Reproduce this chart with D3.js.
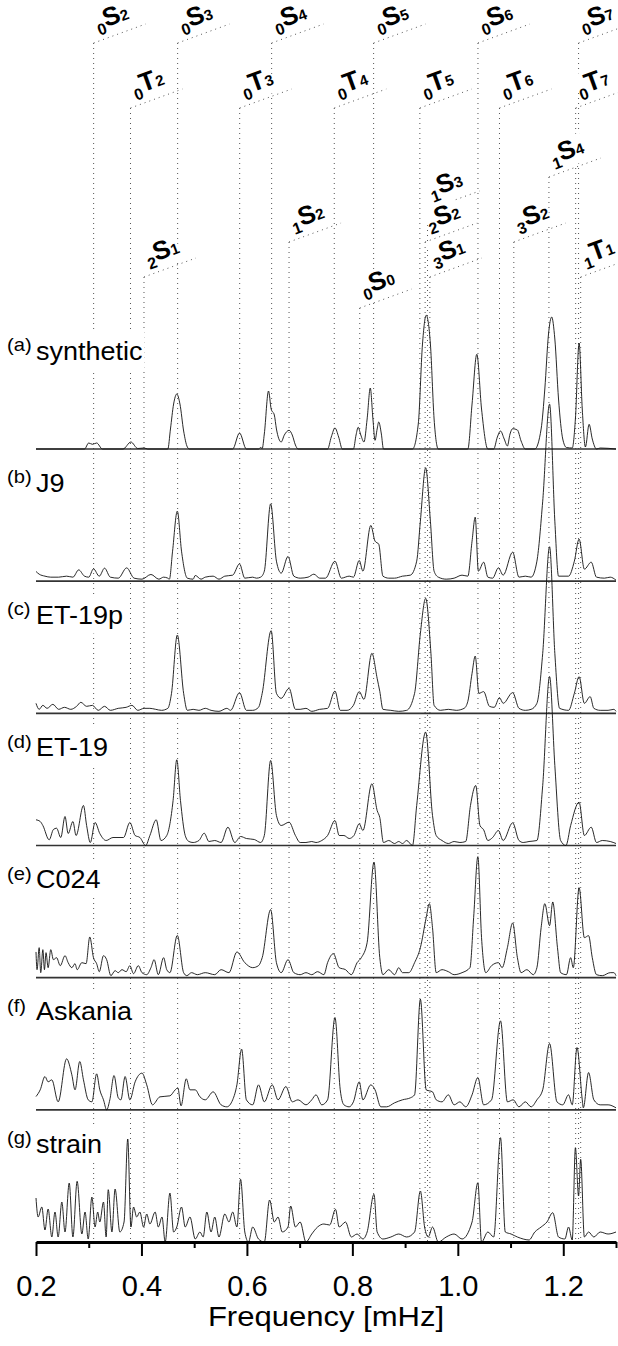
<!DOCTYPE html>
<html>
<head>
<meta charset="utf-8">
<script src="https://cdn.jsdelivr.net/npm/d3@7"></script>
<style>
  html, body { margin: 0; padding: 0; background: #fff; }
  svg { display: block; font-family: "Liberation Sans", Arial, Helvetica, sans-serif; }
</style>
</head>
<body>
<svg id="chart" width="618" height="1346"></svg>
<script>
// Panels, top to bottom
const panelTags = ["a", "b", "c", "d", "e", "f", "g"];
const panelNames = ["synthetic", "J9", "ET-19p", "ET-19", "C024", "Askania", "strain"];

// Normal modes: name (prefix n, letter, suffix l) and frequency in mHz
const modeNames = ["0S2", "0S3", "0S4", "0S5", "0S6", "0S7",
                   "0T2", "0T3", "0T4", "0T5", "0T6", "0T7",
                   "1S4", "1S3", "2S2", "1S2", "3S2", "2S1", "3S1", "1T1", "0S0"];
const modeFreqs = [0.3093, 0.4686, 0.6469, 0.8403, 1.0382, 1.2290,
                   0.3792, 0.5863, 0.7657, 0.9280, 1.0790, 1.2235,
                   1.1728, 0.9425, 0.9380, 0.6799, 1.1062, 0.4048, 0.9470, 1.2330, 0.8140];

// Amplitude spectra [frequency mHz, relative amplitude]
const synthetic = [[0.200,0],[0.292,0],[0.300,6],[0.307,4.7],[0.315,6],[0.326,0],[0.365,0],[0.380,7],[0.393,0.5],[0.405,1],[0.412,0],
  [0.450,0],[0.455,20],[0.461,45],[0.467,55],[0.473,45],[0.480,18],[0.487,2],[0.491,0],[0.573,0],[0.586,16],[0.599,0],
  [0.622,0],[0.626,1.5],[0.629,0.5],[0.633,15],[0.641,58],[0.646,40],[0.652,34],[0.656,20],[0.665,7],[0.671,14],[0.680,18.7],[0.686,14],[0.692,4],[0.697,0],
  [0.753,0],[0.760,12],[0.767,21],[0.774,12],[0.781,0],[0.802,0],[0.807,14],[0.811,21.7],[0.816,14],[0.822,7],[0.828,30],[0.834,61],[0.839,30],[0.843,8.7],[0.847,20],[0.850,27],[0.855,15],[0.859,0],
  [0.914,0],[0.925,25],[0.933,105],[0.940,133.7],[0.948,105],[0.955,30],[0.963,0],[1.019,0],[1.027,45],[1.036,94.7],[1.045,40],[1.057,0],
  [1.068,0],[1.075,12],[1.081,18],[1.088,10],[1.094,3],[1.099,15],[1.104,20.3],[1.113,19],[1.120,8],[1.128,0],
  [1.146,0],[1.158,20],[1.165,60],[1.172,115],[1.178,132],[1.184,110],[1.191,50],[1.199,10],[1.206,1.5],[1.217,1],[1.223,30],[1.230,106],[1.236,40],[1.242,2],[1.249,24.7],[1.255,10],[1.263,0],[1.270,1],[1.300,0]];

const j9 = [[0.200,9.7],[0.206,7],[0.217,5],[0.228,4],[0.243,4],[0.258,5],[0.270,4],[0.281,11.3],[0.292,5],[0.300,4],[0.309,12.3],[0.320,5],[0.330,13],[0.341,4],[0.356,3],[0.372,13.3],[0.386,3],[0.401,2],[0.418,6.7],[0.433,2],[0.442,4],[0.450,3],[0.453,2],
  [0.459,30],[0.468,70],[0.476,30],[0.487,3],[0.498,2],[0.502,5.7],[0.513,2],[0.521,4],[0.536,5],[0.547,2],[0.558,5],[0.573,6],[0.586,17.3],[0.596,3],[0.611,4],[0.618,3],[0.626,4],
  [0.633,10],[0.645,77.3],[0.656,20],[0.665,8],[0.678,24.7],[0.689,5],[0.701,3],[0.716,4],[0.727,7],[0.738,3],[0.749,3],[0.767,20],[0.779,3],[0.794,5],[0.802,4],[0.813,20.7],[0.820,10],[0.835,55.7],[0.843,40],[0.850,37],[0.858,5],
  [0.869,3],[0.880,3],[0.895,5],[0.910,6],[0.922,20],[0.929,60],[0.939,113.3],[0.948,60],[0.955,10],[0.963,4],[0.978,2],[0.993,3],[1.008,6],[1.019,5],[1.027,40],[1.033,64],[1.039,10],[1.049,19],[1.057,4],[1.066,3],[1.077,13.3],[1.086,6],[1.104,29],[1.116,4],
  [1.128,5],[1.139,4],[1.150,20],[1.161,80],[1.174,177],[1.184,60],[1.191,5],[1.210,5],[1.221,20],[1.230,42],[1.240,12],[1.253,19],[1.263,4],[1.278,3],[1.289,4],[1.300,1]];

const et19p = [[0.200,10],[0.206,4],[0.213,8],[0.221,5],[0.232,9],[0.243,4],[0.254,6],[0.266,4],[0.277,7],[0.285,11],[0.296,7],[0.307,8],[0.318,3],[0.330,7],[0.341,3],[0.356,5],[0.371,6],[0.382,8],[0.393,3],[0.405,5],[0.416,5],[0.427,4],[0.438,3],[0.450,5],
  [0.457,20],[0.468,78.3],[0.480,20],[0.487,3],[0.498,4],[0.509,3],[0.521,5],[0.532,3],[0.547,2],[0.562,5],[0.569,3],[0.586,20.7],[0.599,3],[0.611,3],[0.622,6],[0.629,20],[0.646,82.7],[0.656,20],[0.665,15],[0.680,25],[0.692,4],
  [0.701,4],[0.712,5],[0.723,2],[0.738,4],[0.753,5],[0.767,22.3],[0.777,3],[0.790,3],[0.802,8],[0.813,21.7],[0.822,14],[0.837,60],[0.847,35],[0.852,22],[0.858,4],[0.873,3],[0.888,2],[0.903,3],[0.918,20],[0.929,80],[0.939,115],[0.949,60],[0.955,8],
  [0.967,3],[0.982,4],[0.997,3],[1.012,5],[1.019,12],[1.027,40],[1.033,57.3],[1.040,20],[1.049,21.7],[1.060,7],[1.069,6],[1.079,15.7],[1.086,10],[1.104,20.7],[1.116,5],[1.128,3],[1.139,4],[1.150,10],[1.161,60],[1.174,166.6],[1.184,60],[1.193,5],
  [1.210,3],[1.221,20],[1.230,36.7],[1.240,10],[1.251,16.7],[1.258,5],[1.270,3],[1.285,3],[1.296,4],[1.300,2]];

const et19 = [[0.200,25.7],[0.208,24],[0.213,20],[0.225,5.7],[0.233,16],[0.239,17.3],[0.247,8],[0.255,29],[0.261,12],[0.270,24],[0.276,10],[0.290,40],[0.296,20],[0.303,3],[0.312,23],[0.321,12],[0.333,5],[0.346,8],[0.366,8],[0.378,23],[0.388,10],[0.397,8],[0.408,0],[0.416,10],[0.428,25.7],[0.437,5],[0.448,10],
  [0.460,45],[0.467,85.7],[0.474,45],[0.483,10],[0.490,4],[0.498,3],[0.509,5],[0.519,12.3],[0.528,4],[0.539,5],[0.551,3],[0.564,18.3],[0.577,3],[0.588,9],[0.599,7],[0.614,6],[0.626,3],[0.633,10],[0.645,85],[0.656,30],[0.665,20],[0.680,23.3],[0.692,10],
  [0.701,3],[0.712,3],[0.723,4],[0.731,3],[0.742,5],[0.753,10],[0.767,25],[0.775,10],[0.784,10],[0.794,7],[0.803,10],[0.813,21.7],[0.820,15],[0.837,61.7],[0.847,35],[0.852,28],[0.859,3],[0.869,5],[0.880,2],[0.888,4],[0.895,2],[0.903,5],[0.914,0],
  [0.922,40],[0.939,113.3],[0.952,30],[0.959,10],[0.970,5],[0.982,2],[0.993,4],[1.004,3],[1.015,4],[1.024,40],[1.034,60],[1.042,20],[1.049,15.7],[1.057,5],[1.066,8],[1.077,15],[1.086,5],[1.104,22.7],[1.116,5],[1.124,3],[1.135,4],[1.150,5],
  [1.161,60],[1.174,169],[1.184,80],[1.195,5],[1.205,0],[1.214,20],[1.230,43.3],[1.240,10],[1.253,18.3],[1.263,3],[1.274,5],[1.289,4],[1.300,2]];

const c024 = [[0.200,25.7],[0.202,8],[0.206,30],[0.209,5],[0.213,28],[0.216,8],[0.219,25],[0.223,10],[0.228,28],[0.233,18],[0.239,20],[0.246,12],[0.255,22],[0.261,15],[0.268,10],[0.274,14],[0.278,8],[0.287,15],[0.295,14],[0.302,40.7],[0.309,20],[0.315,14],[0.320,6],[0.328,22],[0.334,18],
  [0.342,2],[0.350,7],[0.356,5],[0.363,8],[0.371,6],[0.378,12],[0.385,4],[0.394,12],[0.401,5],[0.410,3],[0.418,10],[0.424,18],[0.432,3],[0.442,20],[0.448,8],[0.454,5],[0.468,42.3],[0.480,5],[0.486,2],[0.495,5],
  [0.506,3],[0.521,5],[0.539,3],[0.551,8],[0.566,5],[0.581,25.7],[0.596,15],[0.611,10],[0.622,12],[0.629,20],[0.645,68],[0.656,15],[0.665,5],[0.678,18],[0.689,5],[0.701,3],[0.712,5],[0.723,3],[0.734,6],[0.746,3],[0.753,15],[0.764,24],[0.775,10],
  [0.787,8],[0.798,3],[0.809,15],[0.817,20],[0.828,35],[0.841,115.6],[0.852,20],[0.858,3],[0.869,8],[0.880,3],[0.888,10],[0.895,5],[0.907,5],[0.918,15],[0.929,30],[0.940,60],[0.946,74],[0.952,50],[0.959,5],[0.970,8],[0.982,6],[0.993,3],
  [1.008,5],[1.023,10],[1.030,60],[1.038,121],[1.045,40],[1.053,5],[1.064,12],[1.077,15],[1.084,10],[1.094,30],[1.104,54.7],[1.113,20],[1.120,5],[1.131,8],[1.143,3],[1.150,10],[1.158,50],[1.165,74],[1.174,52],[1.180,75.7],[1.189,30],[1.195,5],
  [1.206,3],[1.214,20],[1.219,10],[1.230,90],[1.240,40],[1.248,42],[1.255,20],[1.263,3],[1.274,2],[1.289,5],[1.296,5],[1.300,2]];

const askania = [[0.200,13.3],[0.208,20],[0.217,33.3],[0.223,28],[0.230,30],[0.242,8],[0.258,51],[0.268,35],[0.274,20],[0.283,48.3],[0.290,30],[0.299,10],[0.306,8],[0.315,36],[0.321,20],[0.328,10],[0.334,0],[0.340,10],[0.348,34.3],[0.356,12],[0.361,10],[0.369,33.3],[0.378,10],
  [0.388,28],[0.401,36.7],[0.410,25],[0.421,5],[0.435,13],[0.454,14],[0.464,20],[0.469,22],[0.475,4],[0.485,31],[0.492,20],[0.502,20],[0.511,13],[0.521,10],[0.536,18],[0.551,5],[0.562,3],[0.573,10],[0.581,25],[0.590,60.7],[0.599,10],
  [0.611,5],[0.622,25],[0.633,8],[0.648,25],[0.659,10],[0.674,23.3],[0.686,8],[0.697,10],[0.712,5],[0.723,10],[0.731,15],[0.742,5],[0.753,10],[0.767,92.3],[0.777,20],[0.784,5],[0.794,3],[0.802,8],[0.813,28],[0.820,10],[0.835,25],[0.843,20],
  [0.854,3],[0.865,3],[0.880,7],[0.895,10],[0.910,12],[0.918,15],[0.929,110.7],[0.940,20],[0.952,18],[0.959,10],[0.970,8],[0.982,15],[0.993,5],[1.004,8],[1.015,3],[1.027,15],[1.038,32.3],[1.049,5],[1.064,10],[1.081,89],[1.094,8],
  [1.105,10],[1.116,3],[1.128,8],[1.139,3],[1.150,10],[1.161,20],[1.174,66.3],[1.188,8],[1.199,5],[1.210,15],[1.217,5],[1.226,62.3],[1.236,10],[1.238,2],[1.248,37.3],[1.258,10],[1.270,5],[1.285,5],[1.300,2]];

const strain = [[0.200,44],[0.204,25],[0.211,35],[0.217,12],[0.223,33],[0.230,5],[0.236,30],[0.242,5],[0.249,40],[0.255,10],[0.263,59],[0.270,5],[0.278,60.7],[0.287,8],[0.293,30],[0.299,3],[0.306,45],[0.312,15],[0.317,30],[0.321,20],[0.328,40],[0.333,5],
  [0.337,52.3],[0.344,10],[0.350,53],[0.359,10],[0.367,20],[0.374,103],[0.380,15],[0.385,35],[0.391,25],[0.397,30],[0.404,15],[0.410,28],[0.416,18],[0.426,30],[0.432,15],[0.439,25],[0.445,0],[0.454,49],[0.461,10],[0.467,15],[0.476,35],
  [0.483,15],[0.492,25],[0.502,3],[0.511,10],[0.517,5],[0.524,30],[0.532,10],[0.539,25],[0.547,5],[0.558,28],[0.566,20],[0.573,30],[0.581,15],[0.588,62.7],[0.596,10],[0.603,0],[0.611,15],[0.622,3],[0.633,0],[0.643,42],[0.652,20],
  [0.659,25],[0.667,10],[0.678,15],[0.683,36],[0.692,15],[0.701,20],[0.712,0],[0.723,8],[0.734,15],[0.746,18],[0.757,17],[0.768,32.7],[0.775,15],[0.787,20],[0.798,5],[0.809,8],[0.820,3],[0.828,10],[0.841,47.7],[0.847,10],[0.858,3],
  [0.873,5],[0.888,8],[0.903,5],[0.918,10],[0.929,51],[0.937,15],[0.944,5],[0.952,15],[0.963,0],[0.978,5],[0.993,8],[1.008,3],[1.027,20],[1.038,59.3],[1.045,0],[1.057,10],[1.068,5],[1.081,104.3],[1.090,10],[1.101,8],[1.113,5],
  [1.124,3],[1.135,2],[1.146,10],[1.158,15],[1.169,20],[1.180,29.3],[1.191,5],[1.203,3],[1.210,15],[1.217,2],[1.223,94.3],[1.229,46],[1.233,82.7],[1.240,5],[1.248,10],[1.258,5],[1.270,10],[1.285,8],[1.300,10]];

const spectra = [synthetic, j9, et19p, et19, c024, askania, strain];

// X axis ticks
const tickValues = [0.2, 0.3, 0.4, 0.5, 0.6, 0.7, 0.8, 0.9, 1.0, 1.1, 1.2, 1.3];
const tickLabels = ["0.2", "", "0.4", "", "0.6", "", "0.8", "", "1.0", "", "1.2", ""];

// ---- layout ----
const svg = d3.select("#chart");
const x = d3.scaleLinear().domain([0.2, 1.3]).range([36, 616]);
const base = d3.scalePoint().domain(panelNames).range([449, 1242]);
const amp = d3.scaleLinear().domain([0, 100]).range([0, 100]);
const axisY = base("strain");

// label rows for the mode annotations (top of each dotted line)
const rowTop = [43, 108, 177, 210, 242, 277, 308];
const modeRow = [0, 0, 0, 0, 0, 0, 1, 1, 1, 1, 1, 1, 2, 3, 4, 4, 4, 5, 5, 5, 6];

const dotted = sel => sel.attr("stroke", "#555").attr("stroke-width", 1)
  .attr("stroke-dasharray", "1,4").attr("fill", "none");

// vertical mode lines and leaders
const gModes = svg.append("g");
modeNames.forEach((m, i) => {
  const x0 = x(modeFreqs[i]), y0 = rowTop[modeRow[i]];
  gModes.append("line").attr("x1", x0).attr("x2", x0).attr("y1", y0).attr("y2", axisY).call(dotted);
  gModes.append("line").attr("x1", x0).attr("y1", y0).attr("x2", x0 + 52).attr("y2", y0 - 19).call(dotted);
});

// mode labels, rotated, with white knockout
const gLabels = svg.append("g");
modeNames.forEach((m, i) => {
  const x0 = x(modeFreqs[i]), y0 = rowTop[modeRow[i]];
  const lg = gLabels.append("g").attr("transform", `translate(${x0 + 5},${y0 - 10}) rotate(-20)`);
  const bg = lg.append("rect").attr("fill", "#fff");
  const t = lg.append("text").attr("font-weight", "bold").attr("fill", "#000");
  t.append("tspan").attr("font-size", 16).attr("dy", 3).text(m[0]);
  t.append("tspan").attr("font-size", 26).attr("dy", -6).text(m[1]);
  t.append("tspan").attr("font-size", 15).attr("dy", 0).text(m.slice(2));
  const bb = t.node().getBBox();
  bg.attr("x", bb.x).attr("y", bb.y + 3).attr("width", bb.width).attr("height", bb.height - 4);
});

// panels
const line = d3.line().curve(d3.curveMonotoneX);
const gPanels = svg.append("g");
panelNames.forEach((name, i) => {
  const b = base(name);
  // label with knockout box
  const pl = gPanels.append("g");
  const bg = pl.append("rect").attr("fill", "#fff");
  pl.append("g").attr("transform", `translate(7,${b - 98})`)
    .append("text").attr("transform", "scale(1.12,1)").attr("font-size", 18).attr("fill", "#000")
    .text(`(${panelTags[i]})`);
  pl.append("g").attr("transform", `translate(36,${b - 89.5})`)
    .append("text").attr("transform", "scale(1.08,1)").attr("font-size", 25).attr("fill", "#000")
    .text(name);
  const bb = pl.node().getBBox();
  bg.attr("x", bb.x - 2).attr("y", bb.y - 4).attr("width", bb.width + 4).attr("height", bb.height + 8);

  if (name !== "strain") {
    gPanels.append("line").attr("x1", x(0.2)).attr("x2", x(1.3)).attr("y1", b).attr("y2", b)
      .attr("stroke", "#333").attr("stroke-width", 1.6);
  }
  line.x(d => x(d[0])).y(d => b - amp(d[1]));
  gPanels.append("path").attr("d", line(spectra[i]))
    .attr("fill", "none").attr("stroke", "#111").attr("stroke-width", 0.9);
});

// frequency axis
const axis = d3.axisBottom(x).tickValues(tickValues).tickSizeOuter(0)
  .tickFormat((d, i) => tickLabels[i]);
const gAxis = svg.append("g").attr("transform", `translate(0,${axisY})`).call(axis);
gAxis.select(".domain").attr("stroke", "#000").attr("stroke-width", 3);
gAxis.selectAll(".tick line").attr("stroke", "#000").attr("stroke-width", 2)
  .attr("y2", (d, i) => tickLabels[i] ? 14 : 6);
gAxis.selectAll(".tick text").attr("y", 54).attr("dy", 0)
  .attr("font-size", 29).attr("fill", "#000").attr("font-family", "Liberation Sans, Arial, sans-serif");

svg.append("g").attr("transform", `translate(${(x(0.2) + x(1.3)) / 2},1326)`)
  .append("text").attr("transform", "scale(1.15,1)").attr("text-anchor", "middle")
  .attr("font-size", 27).attr("fill", "#000").text("Frequency [mHz]");
</script>
</body>
</html>
